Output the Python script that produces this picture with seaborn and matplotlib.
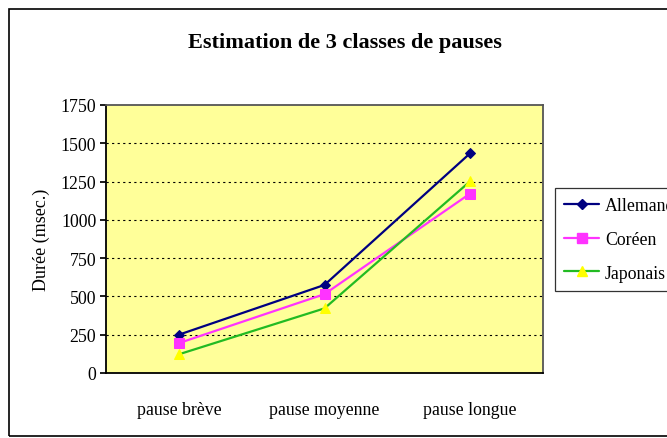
import numpy as np
import pandas as pd
import matplotlib.pyplot as plt
import seaborn as sns
from matplotlib.patches import Rectangle
from matplotlib.lines import Line2D

sns.set_theme(style="white")
plt.rcParams['font.family'] = ['Liberation Serif', 'DejaVu Serif']
plt.rcParams['text.color'] = 'black'
plt.rcParams['axes.labelcolor'] = 'black'
plt.rcParams['xtick.color'] = 'black'
plt.rcParams['ytick.color'] = 'black'

categories = ["pause brève", "pause moyenne", "pause longue"]
allemand = [250, 575, 1435]
coreen = [195, 515, 1172]
japonais = [122, 422, 1252]
yticks = [0, 250, 500, 750, 1000, 1250, 1500, 1750]

series = [
    ("Allemand", allemand, "#000080", "D", "#000080", 5.5),
    ("Coréen", coreen, "#FF33FF", "s", "#FF33FF", 6.5),
    ("Japonais", japonais, "#22BB22", "^", "#FFFF00", 7),
]

fig = plt.figure(figsize=(6.67, 4.39), dpi=100)
# outer chart frame
fig.patches.append(Rectangle((9 / 667, 2 / 439), 1.0, 427 / 439, transform=fig.transFigure,
                             fill=False, edgecolor="black", linewidth=1.2, figure=fig))

ax = fig.add_axes([106 / 667, 65 / 439, 437 / 667, 268 / 439])
ax.set_facecolor("#FFFF99")

handles = []
for name, vals, col, mk, mfc, ms in series:
    df = pd.DataFrame({"x": categories, "y": vals})
    sns.lineplot(data=df, x="x", y="y", ax=ax, color=col, linewidth=1.6, marker=mk,
                 markersize=ms, markerfacecolor=mfc, markeredgecolor=mfc, sort=False)
    handles.append(Line2D([0], [0], color=col, linewidth=1.6, marker=mk,
                          markersize=ms, markerfacecolor=mfc, markeredgecolor=mfc))

ax.set_xlim(-0.5, 2.5)
ax.set_ylim(0, 1750)
ax.set_yticks(yticks)
ax.set_yticklabels([str(v) for v in yticks], fontsize=12.8)
ax.tick_params(axis="x", length=0, labelsize=12.8, pad=20)
ax.tick_params(axis="y", direction="out", length=4, left=True, color="black", pad=3)
for v in yticks[1:-1]:
    ax.axhline(v, color="black", linestyle=(0, (2, 3)), linewidth=0.8, zorder=0.5)
for s in ax.spines.values():
    s.set_color("#555555")
    s.set_linewidth(1.3)
ax.spines["left"].set_color("black")
ax.spines["bottom"].set_color("black")
ax.set_xlabel("")
ax.set_ylabel("Durée (msec.)", fontsize=13, labelpad=8)

fig.text(345 / 667, 1 - 43 / 439, "Estimation de 3 classes de pauses", ha="center", va="center",
         fontsize=16, fontweight="bold")

leg = fig.legend(handles, ["Allemand", "Coréen", "Japonais"], loc="upper left",
                 bbox_to_anchor=(555 / 667, 1 - 189 / 439), frameon=True, fancybox=False,
                 fontsize=12.8, handlelength=2.0, handletextpad=0.3, borderpad=0.5,
                 labelspacing=0.95, borderaxespad=0)
leg.get_frame().set_edgecolor("black")
leg.get_frame().set_linewidth(0.9)

fig.savefig("out.png", dpi=100)
